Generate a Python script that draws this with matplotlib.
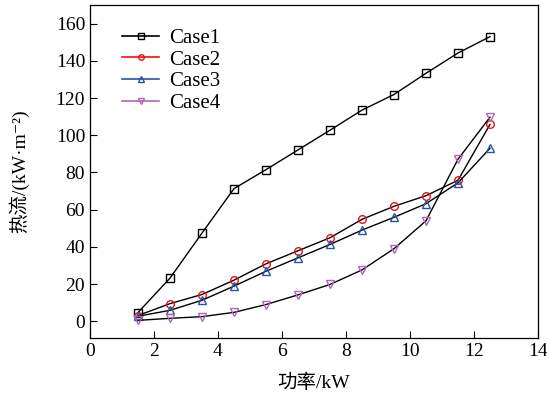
import matplotlib
matplotlib.use('Agg')
import matplotlib.pyplot as plt
from matplotlib.lines import Line2D

plt.rcParams['font.family'] = ['Liberation Serif', 'Noto Sans CJK SC', 'DejaVu Serif']

power = [1.5, 2.5, 3.5, 4.5, 5.5, 6.5, 7.5, 8.5, 9.5, 10.5, 11.5, 12.5]
case1 = [4.7, 23.2, 47.4, 71.3, 81.5, 92.1, 102.7, 113.5, 121.9, 133.3, 144.2, 153.0]
case2 = [3.1, 9.5, 14.4, 22.1, 30.9, 37.9, 44.9, 54.8, 61.8, 67.5, 75.8, 105.8]
case3 = [2.7, 5.9, 11.3, 18.9, 26.9, 34.1, 41.3, 49.0, 55.9, 63.2, 74.4, 93.0]
case4 = [0.5, 1.6, 2.5, 4.8, 9.0, 14.2, 19.8, 27.6, 39.0, 54.0, 87.1, 109.7]

names = ['Case1', 'Case2', 'Case3', 'Case4']
series = [case1, case2, case3, case4]
colors = ['black', '#ee1111', '#2255aa', '#b266b8']
markers = ['s', 'o', '^', 'v']

fig = plt.figure(figsize=(5.47, 4.01), dpi=100)
ax = fig.add_axes([0.1645, 0.157, 0.819, 0.8305])

for vals, c, m in zip(series, colors, markers):
    ax.plot(power, vals, color='black', linewidth=1.0, marker=m, markersize=5.5,
            markerfacecolor='none', markeredgecolor=c, markeredgewidth=1.0)

handles = [Line2D([0], [0], color=c, linewidth=1.2, marker=m, markersize=4,
                  markerfacecolor='none', markeredgecolor=c, markeredgewidth=1.0)
           for c, m in zip(colors, markers)]
ax.legend(handles, names, loc='upper left', frameon=False, fontsize=15,
          handlelength=1.75, handletextpad=0.5, labelspacing=0.1,
          borderaxespad=0.4, bbox_to_anchor=(0.035, 0.98))

ax.set_xlim(0, 14)
ax.set_ylim(-9, 170)
ax.set_xticks(range(0, 15, 2))
ax.set_yticks(range(0, 161, 20))
ax.tick_params(direction='in', length=5, width=0.8, labelsize=14, top=False, right=False)
for s in ax.spines.values():
    s.set_linewidth(0.9)

ax.set_xlabel('功率/kW', fontsize=14, labelpad=10)
ax.set_ylabel('热流/(kW·m⁻²)', fontsize=14, labelpad=19)

fig.savefig('out.png', dpi=100)
